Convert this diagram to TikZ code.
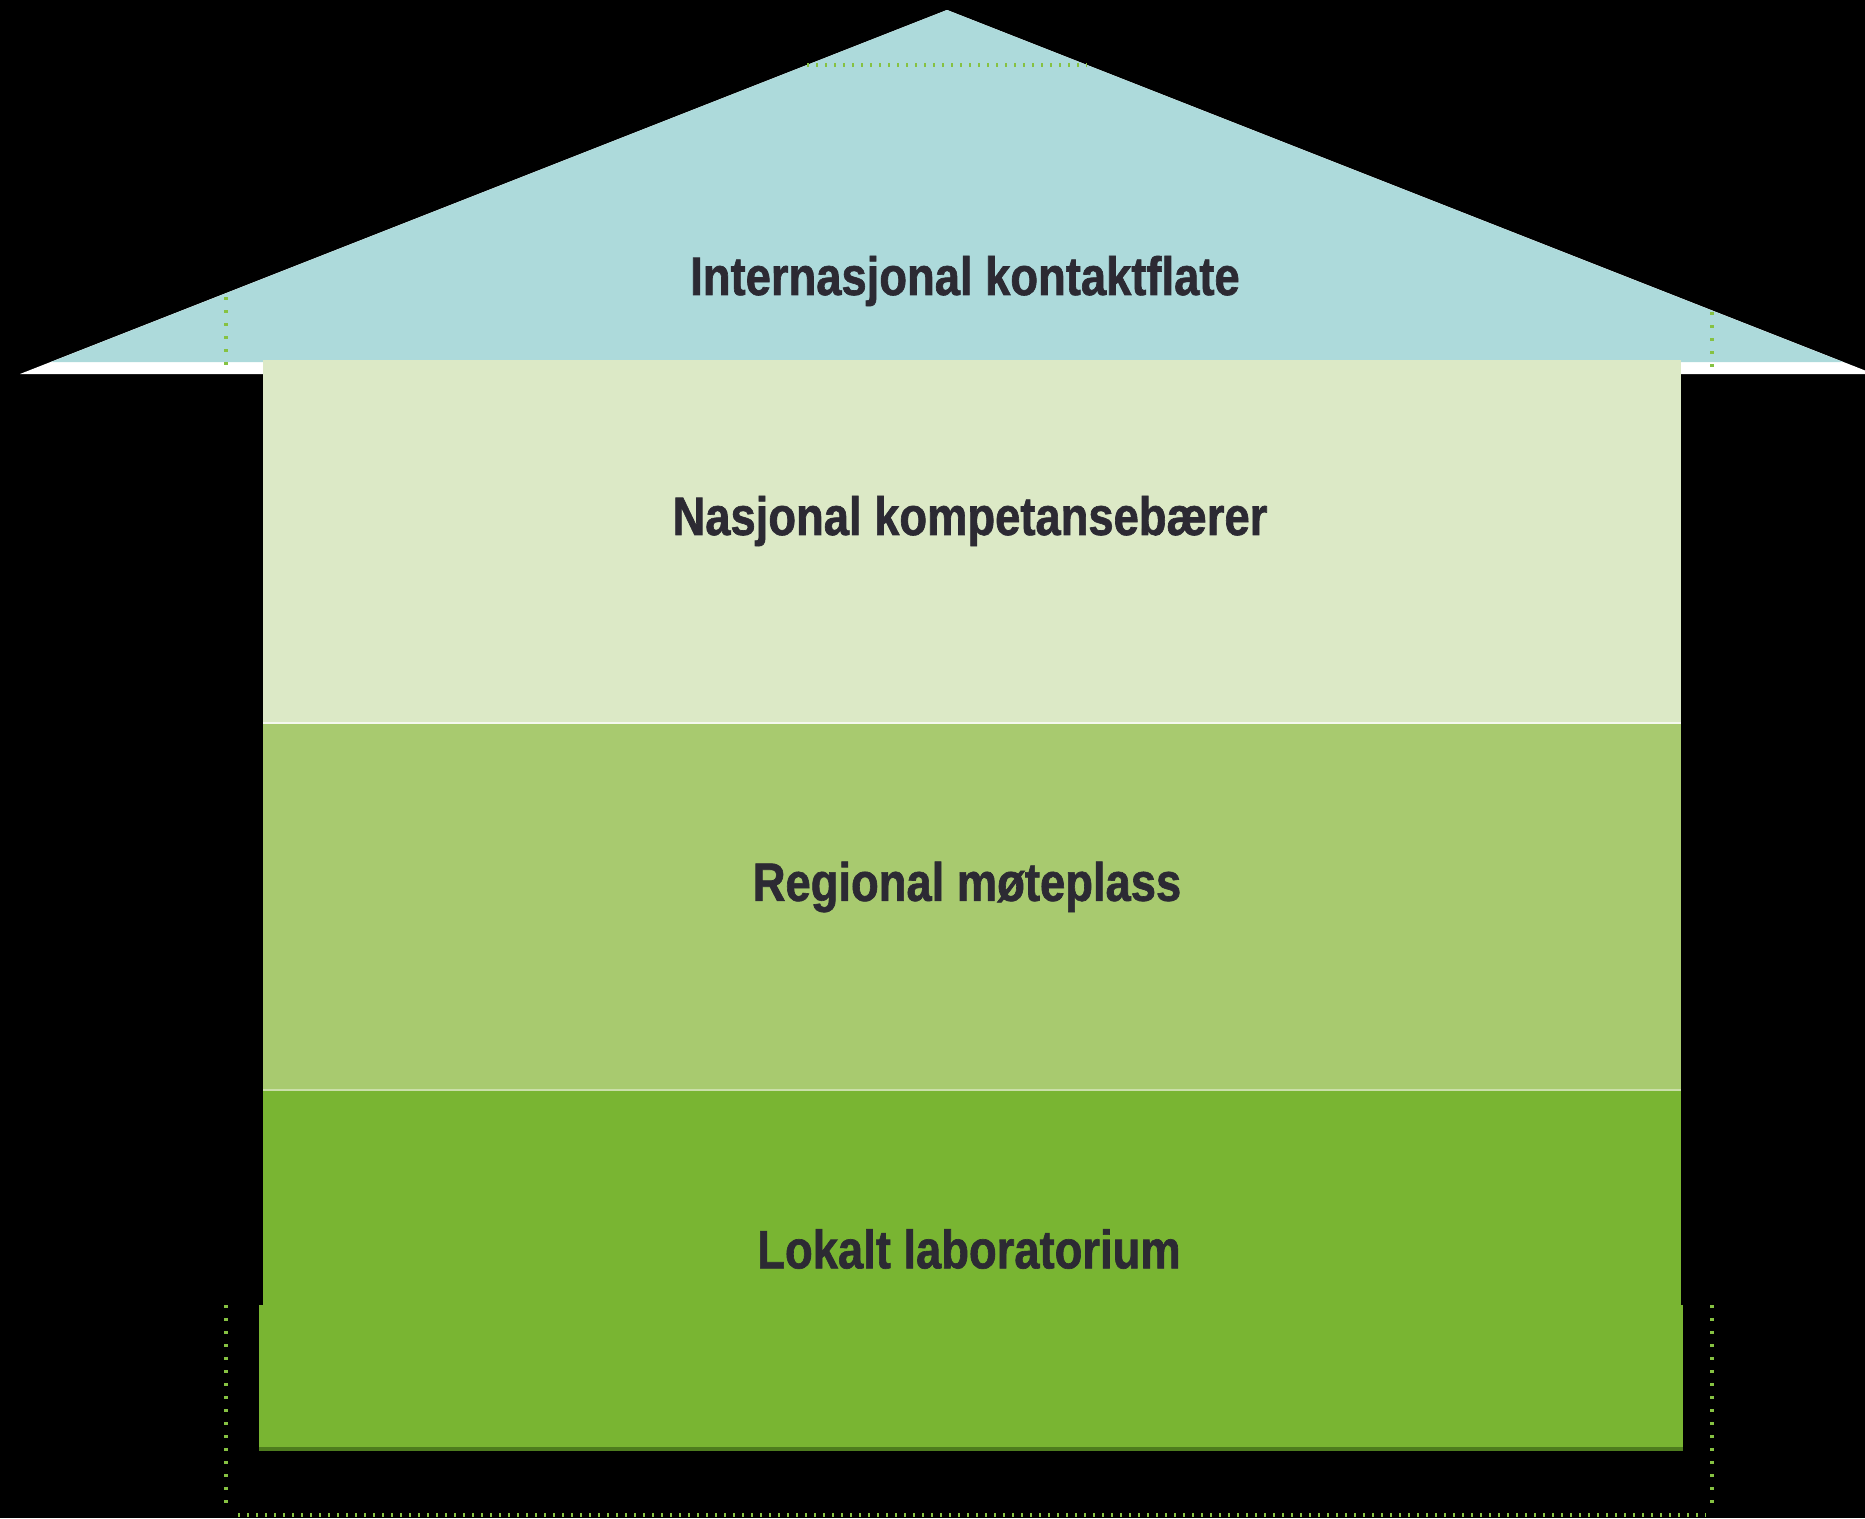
\documentclass[tikz,border=0pt]{standalone}
\usepackage{fontspec}
\newfontfamily\labelfont[FakeStretch=0.84,FakeBold=1.2]{Liberation Sans}
\definecolor{roofblue}{HTML}{ADDADB}
\definecolor{bandA}{HTML}{DCE9C6}
\definecolor{bandB}{HTML}{A8CA6F}
\definecolor{bandC}{HTML}{79B532}
\definecolor{shadeC}{HTML}{4E7D1E}
\definecolor{dotgreen}{HTML}{86C242}
\definecolor{labeltext}{HTML}{2C2A33}
\tikzset{
  layerlabel/.style={font=\labelfont\bfseries\fontsize{54}{60}\selectfont, text=labeltext, inner sep=0pt},
  guide/.style={draw=dotgreen, line width=3.4pt, dash pattern=on 3pt off 10pt},
  fineguide/.style={draw=dotgreen, line width=3.2pt, dash pattern=on 2pt off 7pt}
}
\begin{document}
\begin{tikzpicture}[x=1pt,y=-1pt]
\useasboundingbox[fill=black] (0,0) rectangle (1865,1518);
% roof
\coordinate (apex) at (947,10);
\coordinate (eaveL) at (20,374);
\coordinate (eaveR) at (1874,374);
\fill[white] (apex) -- (eaveL) -- (eaveR) -- cycle;
\fill[roofblue] (apex) -- (51,362) -- (1843,362) -- cycle;
% body bands
\fill[bandA] (263,360) rectangle (1681,723);
\fill[bandB] (263,723) rectangle (1681,1090);
\fill[bandC] (263,1090) rectangle (1681,1305);
\fill[bandC] (259,1305) rectangle (1683,1451);
\draw[white!70!bandA, line width=2pt] (263,723) -- (1681,723);
\draw[white!40!bandB, line width=1.5pt] (263,1090) -- (1681,1090);
\draw[shadeC, line width=4pt] (259,1449) -- (1683,1449);
% dotted guides
\draw[fineguide] (807,65) -- (1087,65);
\draw[guide] (226,297) -- (226,374);
\draw[guide] (1712,312) -- (1712,374);
\draw[guide] (226,1305) -- (226,1510);
\draw[guide] (1712,1305) -- (1712,1510);
\draw[fineguide] (238,1515) -- (1706,1515);
% labels
\node[layerlabel] (intl) at (965,281) {Internasjonal kontaktflate};
\node[layerlabel] (nasj) at (970,521) {Nasjonal kompetansebærer};
\node[layerlabel] (regn) at (967,887) {Regional møteplass};
\node[layerlabel] (lokal) at (969,1249) {Lokalt laboratorium};
\end{tikzpicture}
\end{document}
